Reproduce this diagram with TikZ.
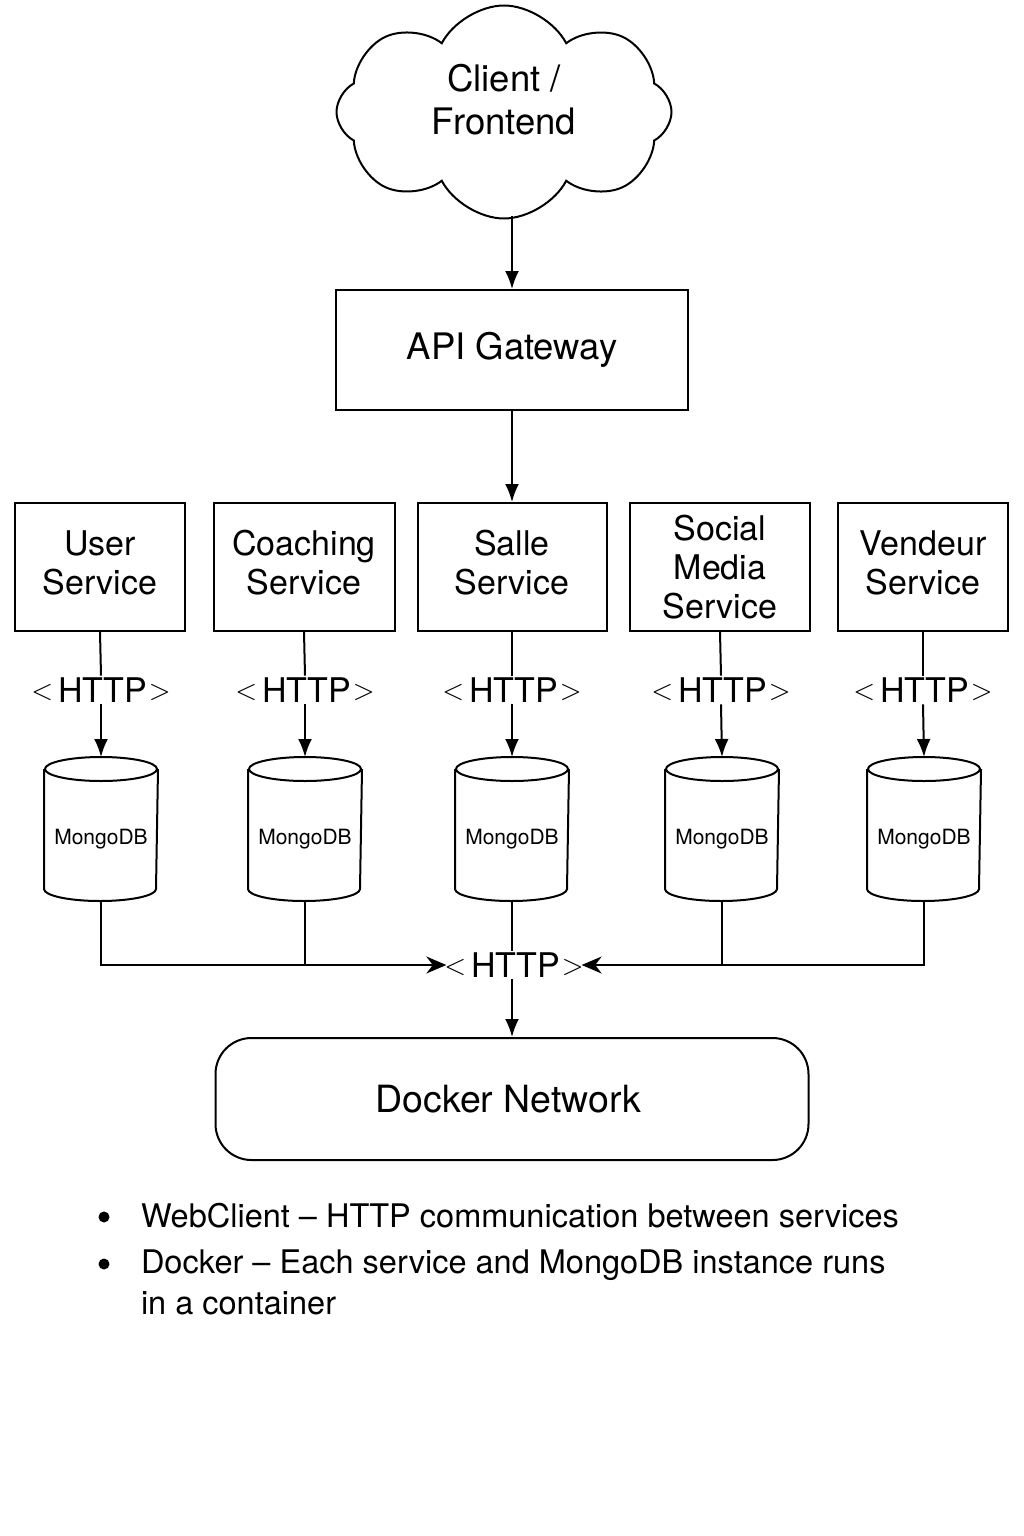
\documentclass[tikz,border=0pt]{standalone}
\usepackage{fontspec}
\setmainfont{TeX Gyre Heros}
\usetikzlibrary{shapes.symbols,arrows.meta}
\newcommand{\ltsym}{\raisebox{2.5pt}{\fontsize{10}{12}\selectfont\scalebox{2.8}{$<$}}}
\newcommand{\gtsym}{\raisebox{2.5pt}{\fontsize{10}{12}\selectfont\scalebox{2.8}{$>$}}}
\newcommand{\httplbl}{\hspace*{-4pt}\ltsym\hspace{5pt}HTTP\hspace{2pt}\gtsym\hspace*{-4pt}}
\begin{document}
\begin{tikzpicture}[x=1pt,y=-1pt,line width=2pt,
  every node/.style={font=\fontsize{34}{39}\selectfont},
  svc/.style={draw,rectangle,align=center,minimum height=128pt,inner sep=2pt},
  lbl/.style={inner sep=1pt,fill=white},
  db/.style={minimum width=112pt,minimum height=142pt,inner sep=0pt,font=\fontsize{21}{24}\selectfont},
  arr/.style={-{Latex[length=18pt,width=14pt]}},
  harr/.style={-{Stealth[length=20pt,width=17pt]}}]
\useasboundingbox (0,0) rectangle (1024,1536);
% cloud
\node[cloud,draw,cloud puffs=8,cloud puff arc=125,aspect=1.6,minimum width=335pt,minimum height=213pt,inner sep=0pt] (client) at (504,112) {};
\node[align=center,inner sep=0pt,font=\fontsize{36.5}{43}\selectfont] (clienttxt) at (504,100) {Client /\\Frontend};
\coordinate (cb) at (512,216);
% gateway
\node[draw,minimum width=352pt,minimum height=120pt,font=\fontsize{36.5}{40}\selectfont] (gw) at (512,350) {API Gateway};
\draw[arr] (cb) -- (gw.north);
% services
\node[svc,minimum width=170pt] (s1) at (100,567) {\raisebox{2pt}{\begin{tabular}{@{}c@{}}User\\Service\end{tabular}}};
\node[svc,minimum width=181pt] (s2) at (304,567) {\raisebox{2pt}{\begin{tabular}{@{}c@{}}Coaching\\Service\end{tabular}}};
\node[svc,minimum width=189pt] (s3) at (512,567) {\raisebox{2pt}{\begin{tabular}{@{}c@{}}Salle\\Service\end{tabular}}};
\node[svc,minimum width=180pt] (s4) at (720,567) {Social\\Media\\Service};
\node[svc,minimum width=170pt] (s5) at (923,567) {\raisebox{2pt}{\begin{tabular}{@{}c@{}}Vendeur\\Service\end{tabular}}};
\draw[arr] (gw.south) -- (s3.north);
% http labels
\node[lbl] (h1) at (101,690) {\httplbl};
\node[lbl] (h2) at (305,690) {\httplbl};
\node[lbl] (h3) at (512,690) {\httplbl};
\node[lbl] (h4) at (721,690) {\httplbl};
\node[lbl] (h5) at (923,690) {\httplbl};
% databases
\foreach \n/\x in {m1/101,m2/305,m3/512,m4/722,m5/924}{
  \node[db,text depth=0pt,text height=0pt] (\n) at (\x,829) {\raisebox{-15pt}{MongoDB}};
  \draw ([yshift=-12pt]\n.north west) -- ([yshift=12pt]\n.south west) arc (180:360:56pt and 12pt) -- ([yshift=-12pt]\n.north east);
  \draw ([yshift=-12pt]\n.north) ellipse (56pt and 12pt);
}
\foreach \i in {1,...,5}{
  \draw (s\i.south) -- (h\i.north);
  \draw[arr] (h\i.south) -- (m\i.north);
}
% bottom HTTP
\node[lbl] (hb) at (514,965) {\httplbl};
\node[draw,rounded corners=36pt,minimum width=593pt,minimum height=122pt,font=\fontsize{37.5}{40}\selectfont] (dn) at (512,1099) {\hspace*{-8pt}Docker Network};
\draw[harr] (m1.south) |- (hb.west);
\draw (m2.south) -- (m2.south |- hb.west);
\draw (m3.south) -- (hb.north -| m3.south);
\draw[harr] (m5.south) |- (hb.east);
\draw (m4.south) -- (m4.south |- hb.east);
\draw[arr] (hb.south -| m3.south) -- (dn.north -| m3.south);
% bullets
\node[circle,fill,inner sep=0pt,minimum size=11pt] (b1) at (104,1217) {};
\node[circle,fill,inner sep=0pt,minimum size=11pt] (b2) at (104,1264) {};
\node[anchor=west,inner sep=0pt,font=\fontsize{32.5}{41}\selectfont] (t1) at (140,1216) {WebClient – HTTP communication between services};
\node[anchor=north west,inner sep=0pt,align=left,font=\fontsize{32.5}{41}\selectfont] (t2) at (140,1249) {Docker – Each service and MongoDB instance runs\\in a container};
\end{tikzpicture}
\end{document}
